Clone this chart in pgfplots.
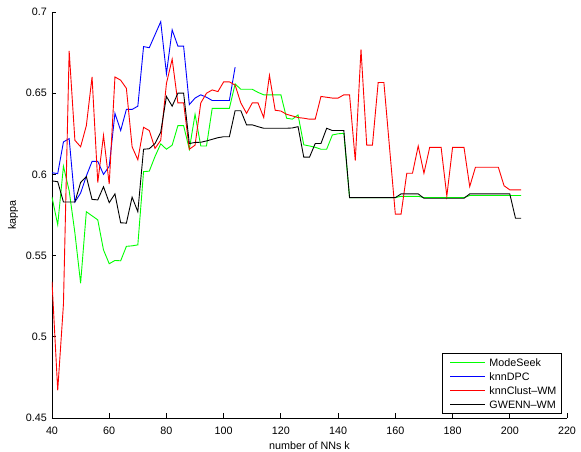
\documentclass[border=0pt]{standalone}
\usepackage{fontspec}
\setmainfont{Liberation Sans}
\usepackage{pgfplots}
\pgfplotsset{compat=1.18}
\newcommand\fs{\fontsize{10.8}{13}\selectfont}
\begin{document}
\begin{tikzpicture}
\useasboundingbox (-52bp,-34bp) rectangle (529bp,418bp);
\begin{axis}[
  scale only axis, width=515bp, height=406bp,
  xmin=40, xmax=220, ymin=0.45, ymax=0.7,
  xtick={40,60,...,220},
  ytick={0.45,0.5,0.55,0.6,0.65,0.7},
  axis lines=left,
  axis line style={-, black, line width=0.8bp},
  tick align=inside,
  major tick length=4.5bp,
  tick style={black, line width=0.8bp},
  /pgf/number format/assume math mode=true,
  yticklabel style={/pgf/number format/fixed, /pgf/number format/precision=2, font=\fs, inner sep=0pt, xshift=-5bp},
  xticklabel style={font=\fs, inner sep=0pt, yshift=-9bp},
  xlabel={number of NNs k},
  ylabel={kappa},
  xlabel style={font=\fs, at={(axis description cs:0.5,-0.0567)}, anchor=north, inner sep=0pt},
  ylabel style={font=\fs, at={(axis description cs:-0.0654,0.5)}, anchor=south, inner sep=0pt},
  legend style={at={(rel axis cs:0.990,0.0099)}, anchor=south east, draw=black, line width=0.8bp,
    inner xsep=3bp, inner ysep=2.5bp, row sep=0pt, column sep=2bp, font=\fs,
    nodes={inner xsep=2bp, inner ysep=3bp, text height=7.8bp, text depth=0bp}},
  legend cell align=left,
  legend image code/.code={\path (0bp,0bp); \draw[#1] (4bp,0bp) -- (39bp,0bp);},
  every axis plot/.append style={line width=0.9bp},
]
\addplot[color={rgb,1:red,0;green,1;blue,0}] coordinates {
(40,0.586)(42,0.569)(44,0.605)(46,0.590)(48,0.564)(50,0.533)(52,0.577)(54,0.5745)(56,0.572)(58,0.5535)
(60,0.545)(62,0.547)(64,0.5468)(66,0.5557)(68,0.556)(70,0.5566)(72,0.6017)(74,0.602)(76,0.611)(78,0.6188)
(80,0.6155)(82,0.618)(84,0.630)(86,0.630)(88,0.6155)(90,0.637)(92,0.6175)(94,0.6175)(96,0.6407)(98,0.6407)
(100,0.6407)(102,0.6407)(104,0.6557)(106,0.6524)(108,0.6524)(110,0.6524)(112,0.6505)(114,0.649)(116,0.649)(118,0.649)
(120,0.649)(122,0.6346)(124,0.634)(126,0.6366)(128,0.6182)(130,0.6175)(132,0.6167)(134,0.6155)(136,0.6155)(138,0.6243)
(140,0.625)(142,0.6253)(144,0.5857)(146,0.5857)(148,0.5857)(150,0.5857)(152,0.5857)(154,0.5857)(156,0.5857)(158,0.5857)
(160,0.5857)(162,0.5865)(164,0.5865)(166,0.5865)(168,0.5865)(170,0.5857)(172,0.5857)(174,0.5857)(176,0.5857)(178,0.5857)
(180,0.5857)(182,0.5857)(184,0.5857)(186,0.587)(188,0.587)(190,0.587)(192,0.587)(194,0.587)(196,0.587)(198,0.587)
(200,0.587)(202,0.587)(204,0.587)};
\addlegendentry{ModeSeek}
\addplot[color=blue] coordinates {
(40,0.601)(42,0.6005)(44,0.620)(46,0.622)(48,0.583)(50,0.5885)(52,0.599)(54,0.608)(56,0.608)(58,0.600)
(60,0.605)(62,0.6376)(64,0.627)(66,0.640)(68,0.640)(70,0.642)(72,0.6787)(74,0.678)(76,0.686)(78,0.694)
(80,0.662)(82,0.689)(84,0.679)(86,0.679)(88,0.643)(90,0.647)(92,0.649)(94,0.6475)(96,0.6455)(98,0.6455)
(100,0.6455)(102,0.6455)(104,0.666)};
\addlegendentry{knnDPC}
\addplot[color=red] coordinates {
(40,0.534)(42,0.467)(44,0.520)(46,0.676)(48,0.621)(50,0.617)(52,0.630)(54,0.660)(56,0.595)(58,0.624)
(60,0.594)(62,0.660)(64,0.658)(66,0.653)(68,0.617)(70,0.609)(72,0.629)(74,0.627)(76,0.616)(78,0.621)
(80,0.656)(82,0.671)(84,0.644)(86,0.644)(88,0.6155)(90,0.618)(92,0.644)(94,0.650)(96,0.652)(98,0.651)
(100,0.657)(102,0.657)(104,0.655)(106,0.644)(108,0.6376)(110,0.644)(112,0.644)(114,0.635)(116,0.661)(118,0.6395)
(120,0.639)(122,0.637)(124,0.636)(126,0.635)(128,0.6346)(130,0.634)(132,0.634)(134,0.648)(136,0.6475)(138,0.647)
(140,0.647)(142,0.649)(144,0.649)(146,0.6085)(148,0.677)(150,0.618)(152,0.618)(154,0.6566)(156,0.6566)(158,0.616)
(160,0.5755)(162,0.5755)(164,0.6007)(166,0.6007)(168,0.6175)(170,0.6007)(172,0.6166)(174,0.6166)(176,0.6166)(178,0.5867)
(180,0.6166)(182,0.6166)(184,0.6166)(186,0.5925)(188,0.6044)(190,0.6044)(192,0.6044)(194,0.6044)(196,0.6044)(198,0.593)
(200,0.5905)(202,0.5905)(204,0.5905)};
\addlegendentry{knnClust–WM}
\addplot[color=black] coordinates {
(40,0.596)(42,0.5955)(44,0.583)(46,0.583)(48,0.583)(50,0.595)(52,0.5986)(54,0.5846)(56,0.5843)(58,0.5924)
(60,0.5826)(62,0.588)(64,0.5702)(66,0.570)(68,0.586)(70,0.577)(72,0.6155)(74,0.6158)(76,0.619)(78,0.626)
(80,0.648)(82,0.642)(84,0.650)(86,0.650)(88,0.619)(90,0.6197)(92,0.6198)(94,0.6206)(96,0.6216)(98,0.6226)
(100,0.6232)(102,0.6232)(104,0.6392)(106,0.6392)(108,0.6305)(110,0.6305)(112,0.6294)(114,0.6284)(116,0.6284)(118,0.6284)
(120,0.6284)(122,0.6284)(124,0.6286)(126,0.6294)(128,0.6106)(130,0.6106)(132,0.619)(134,0.619)(136,0.6284)(138,0.627)
(140,0.627)(142,0.627)(144,0.5857)(146,0.5857)(148,0.5857)(150,0.5857)(152,0.5857)(154,0.5857)(156,0.5857)(158,0.5857)
(160,0.5857)(162,0.588)(164,0.588)(166,0.588)(168,0.588)(170,0.5853)(172,0.5853)(174,0.5853)(176,0.5853)(178,0.5853)
(180,0.5853)(182,0.5853)(184,0.5853)(186,0.588)(188,0.588)(190,0.588)(192,0.588)(194,0.588)(196,0.588)(198,0.588)
(200,0.588)(202,0.573)(204,0.573)};
\addlegendentry{GWENN–WM}
\end{axis}
\end{tikzpicture}
\end{document}
